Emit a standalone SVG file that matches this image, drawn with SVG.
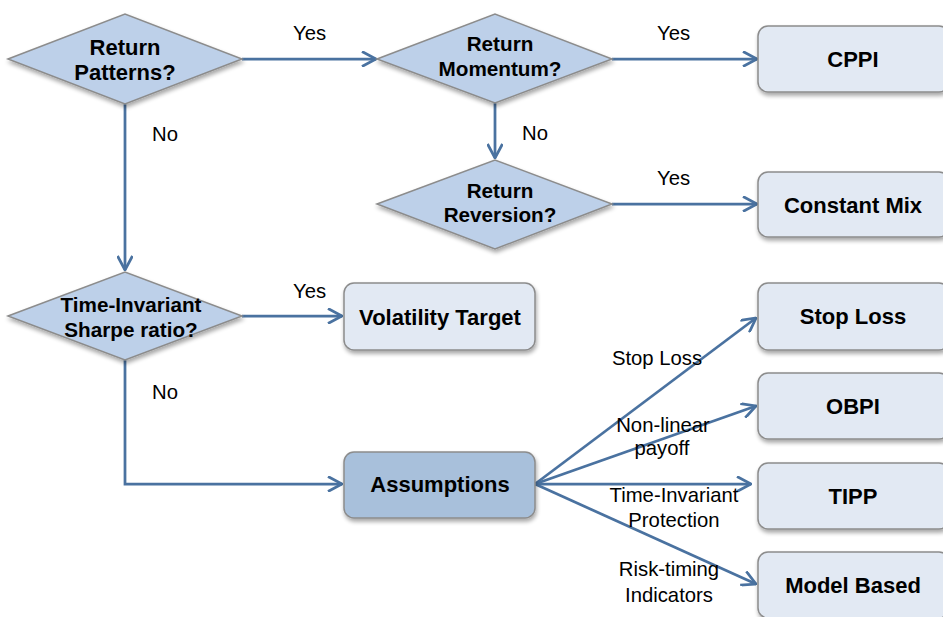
<svg xmlns="http://www.w3.org/2000/svg" width="943" height="617" viewBox="0 0 943 617">
  <defs>
    <style>
      .dia { fill: #BDD0E9; stroke: #8C8C8C; stroke-width: 1.5; filter: url(#sh); }
      .box { fill: #E2E9F3; stroke: #8C8C8C; stroke-width: 1.5; filter: url(#sh); }
      .boxd { fill: #A8C0DB; stroke: #8C8C8C; stroke-width: 1.5; filter: url(#sh); }
      .bt { font-family: "Liberation Sans", Arial, sans-serif; font-weight: bold; font-size: 22px; fill: #000; text-anchor: middle; }
      .dt { font-size: 20.7px; }
      .lt { font-family: "Liberation Sans", Arial, sans-serif; font-size: 20.3px; fill: #000; }
      .lc { text-anchor: middle; }
      .con { fill: none; stroke: #4A72A0; stroke-width: 2.75; marker-end: url(#ah); }
    </style>
    <filter id="sh" x="-10%" y="-10%" width="130%" height="140%">
      <feGaussianBlur in="SourceAlpha" stdDeviation="2"/>
      <feOffset dx="1" dy="3" result="o"/>
      <feComponentTransfer><feFuncA type="linear" slope="0.35"/></feComponentTransfer>
      <feMerge><feMergeNode/><feMergeNode in="SourceGraphic"/></feMerge>
    </filter>
    <marker id="ah" viewBox="0 0 16 16" refX="15" refY="8" markerWidth="16" markerHeight="16" markerUnits="userSpaceOnUse" orient="auto">
      <path d="M1,0.5 L15,8 L1,15.5" fill="none" stroke="#4A72A0" stroke-width="2.75"/>
    </marker>
  </defs>

  <g id="connectors">
    <path class="con" d="M242,59 L376,59"/>
    <path class="con" d="M612,59 L757,59"/>
    <path class="con" d="M495,103 L495,158"/>
    <path class="con" d="M612,204 L757,204"/>
    <path class="con" d="M125,104 L125,270"/>
    <path class="con" d="M242,316 L342,316"/>
    <path class="con" d="M125,360 L125,484 L342,484"/>
    <path class="con" d="M535,484 L756,318"/>
    <path class="con" d="M535,484 L756,406"/>
    <path class="con" d="M535,484 L751,484"/>
    <path class="con" d="M535,484 L756,584"/>
  </g>

  <g id="labels">
    <text class="lt" x="293" y="40">Yes</text>
    <text class="lt" x="657" y="40">Yes</text>
    <text class="lt" x="522" y="140">No</text>
    <text class="lt" x="657" y="185">Yes</text>
    <text class="lt" x="152" y="141">No</text>
    <text class="lt" x="293" y="298">Yes</text>
    <text class="lt" x="152" y="399">No</text>
    <text class="lt lc" x="657" y="365">Stop Loss</text>
    <text class="lt lc" x="663" y="432">Non-linear</text>
    <text class="lt lc" x="662" y="455">payoff</text>
    <text class="lt lc" x="674" y="502">Time-Invariant</text>
    <text class="lt lc" x="674" y="527">Protection</text>
    <text class="lt lc" x="669" y="576">Risk-timing</text>
    <text class="lt lc" x="669" y="602">Indicators</text>
  </g>

  <g id="return-patterns">
    <polygon class="dia" points="8,59 125,14 242,59 125,104"/>
    <text class="bt" x="125" y="55">Return</text>
    <text class="bt" x="125" y="80">Patterns?</text>
  </g>
  <g id="return-momentum">
    <polygon class="dia" points="377,59 495,14 612,59 495,103"/>
    <text class="bt dt" x="500" y="51">Return</text>
    <text class="bt dt" x="500" y="76">Momentum?</text>
  </g>
  <g id="return-reversion">
    <polygon class="dia" points="377,204 495,160 612,204 495,249"/>
    <text class="bt dt" x="500" y="198">Return</text>
    <text class="bt dt" x="500" y="222">Reversion?</text>
  </g>
  <g id="time-invariant">
    <polygon class="dia" points="8,316 125,272 242,316 125,360"/>
    <text class="bt dt" x="131" y="312">Time-Invariant</text>
    <text class="bt dt" x="131" y="337">Sharpe ratio?</text>
  </g>

  <g id="cppi">
    <rect class="box" x="758" y="26" width="191" height="66" rx="10"/>
    <text class="bt" x="853" y="67">CPPI</text>
  </g>
  <g id="constant-mix">
    <rect class="box" x="758" y="172" width="191" height="65" rx="10"/>
    <text class="bt" x="853" y="213">Constant Mix</text>
  </g>
  <g id="volatility-target">
    <rect class="box" x="344" y="283" width="191" height="67" rx="10"/>
    <text class="bt" x="440" y="325">Volatility Target</text>
  </g>
  <g id="assumptions">
    <rect class="boxd" x="344" y="452" width="191" height="66" rx="10"/>
    <text class="bt" x="440" y="492">Assumptions</text>
  </g>
  <g id="stop-loss">
    <rect class="box" x="758" y="283" width="191" height="67" rx="10"/>
    <text class="bt" x="853" y="324">Stop Loss</text>
  </g>
  <g id="obpi">
    <rect class="box" x="758" y="373" width="191" height="66" rx="10"/>
    <text class="bt" x="853" y="414">OBPI</text>
  </g>
  <g id="tipp">
    <rect class="box" x="758" y="463" width="191" height="66" rx="10"/>
    <text class="bt" x="853" y="504">TIPP</text>
  </g>
  <g id="model-based">
    <rect class="box" x="758" y="552" width="191" height="66" rx="10"/>
    <text class="bt" x="853" y="593">Model Based</text>
  </g>
</svg>
